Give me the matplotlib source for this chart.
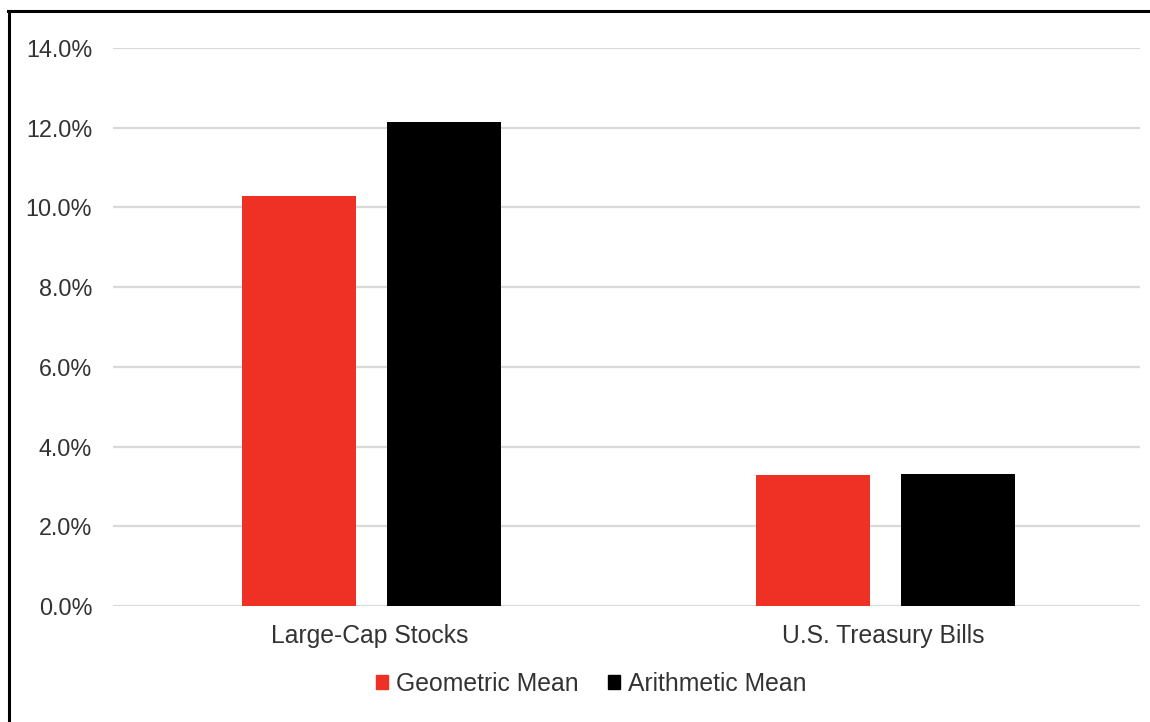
import matplotlib
matplotlib.use("Agg")
import matplotlib.pyplot as plt
from matplotlib.patches import Patch
from matplotlib.lines import Line2D
from matplotlib.ticker import FuncFormatter
import numpy as np

plt.rcParams['font.family'] = ['Liberation Sans', 'DejaVu Sans']

categories = ["Large-Cap Stocks", "U.S. Treasury Bills"]
series_names = ["Geometric Mean", "Arithmetic Mean"]
geometric = [10.28, 3.29]
arithmetic = [12.14, 3.32]
yticks = [0, 2, 4, 6, 8, 10, 12, 14]

W, H = 1150, 722
fig = plt.figure(figsize=(W / 100, H / 100), dpi=100)
ax = fig.add_axes([113 / W, 1 - 606 / H, (1140 - 113) / W, (606 - 48) / H])

x = np.arange(len(categories))
bw = 0.222
off = 0.141
ax.bar(x - off + 0.004, geometric, width=bw, color="#ee3124", zorder=3, label=series_names[0])
ax.bar(x + off + 0.004, arithmetic, width=bw, color="#000000", zorder=3, label=series_names[1])

ax.set_xlim(-0.5, 1.5)
ax.set_ylim(0, 14)
ax.set_yticks(yticks)
ax.yaxis.set_major_formatter(FuncFormatter(lambda v, p: f"{v:.1f}%"))
ax.grid(axis="y", color="#d9d9d9", linewidth=1.6, zorder=0)
for s in ax.spines.values():
    s.set_visible(False)
ax.tick_params(axis="both", length=0, colors="#333333")
ax.tick_params(axis="y", pad=15, labelsize=16.8)
ax.tick_params(axis="x", pad=13, labelsize=17.8)
ax.set_xticks(x)
ax.set_xticklabels(categories)

handles = [Patch(color="#ee3124"), Patch(color="#000000")]
fig.legend(handles, series_names, loc="center", bbox_to_anchor=(591 / W, 1 - 684 / H),
           ncol=2, frameon=False, fontsize=17.8, handlelength=0.5, handleheight=0.5,
           handletextpad=0.3, columnspacing=1.2, labelcolor="#333333")

fig.add_artist(Line2D([8 / W, 1.0], [1 - 10.5 / H, 1 - 10.5 / H], transform=fig.transFigure,
                      color="black", linewidth=2.2))
fig.add_artist(Line2D([8.5 / W, 8.5 / W], [0.0, 1 - 10.5 / H], transform=fig.transFigure,
                      color="black", linewidth=2.2))

fig.savefig("out.png", dpi=100)
